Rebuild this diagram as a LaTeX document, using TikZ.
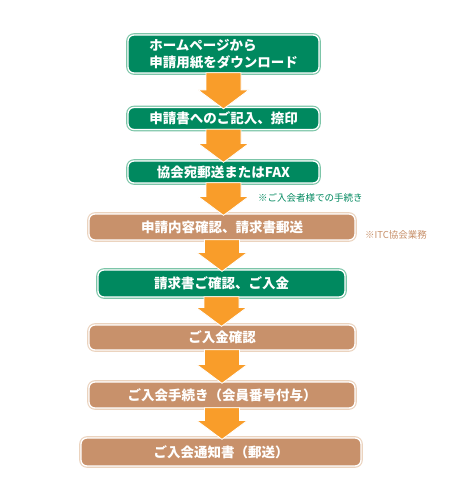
\documentclass[tikz,border=0pt]{standalone}
\usepackage{fontspec}
\newfontfamily\jp{Noto Sans CJK JP}
\usetikzlibrary{calc}
\definecolor{grn}{HTML}{00895F}
\definecolor{grnl}{HTML}{7CC5A8}
\definecolor{brn}{HTML}{C8916B}
\definecolor{brnl}{HTML}{EBD3BE}
\definecolor{orng}{HTML}{F99D2A}
\newcommand\flowarrow[2]{%
  \path[fill=orng, draw=white, line width=0.8pt, line join=miter]
    let \p1=(#1.south), \p2=(#2.north) in
    (\x1-17.5pt,\y1+1pt) -- (\x1+17.5pt,\y1+1pt) -- (\x1+17.5pt,\y2+17pt)
    -- (\x1+25.5pt,\y2+17pt) -- (\x1,\y2-2pt) -- (\x1-25.5pt,\y2+17pt)
    -- (\x1-17.5pt,\y2+17pt) -- cycle;}
\begin{document}
\begin{tikzpicture}[x=1pt,y=-1pt,
  box/.style={rounded corners=6pt, draw=white, line width=1.3pt, text=white,
    font=\jp\bfseries\fontsize{13.5}{17}\selectfont, inner sep=0pt},
  gbox/.style={box, fill=grn, preaction={draw=grnl, line width=3.6pt}},
  bbox/.style={box, fill=brn, preaction={draw=brnl, line width=3.6pt}},
  gnote/.style={anchor=west, inner sep=0pt, text=grn, font=\jp\fontsize{9.5}{11}\selectfont},
  bnote/.style={anchor=west, inner sep=0pt, text=brn, font=\jp\fontsize{9.5}{11}\selectfont}]
\useasboundingbox[fill=white] (0,0) rectangle (470,490);
\node[gbox, minimum width=191pt, minimum height=38pt, align=left] (b1) at (223.5,54)
  {ホームページから\\申請用紙をダウンロード};
\node[gbox, minimum width=191pt, minimum height=22pt] (b2) at (223.5,118.5)
  {申請書へのご記入、捺印};
\node[gbox, minimum width=191pt, minimum height=22pt] (b3) at (223.5,172)
  {協会宛郵送またはFAX};
\node[bbox, minimum width=266pt, minimum height=26pt] (b4) at (222,227)
  {申請内容確認、請求書郵送};
\node[gbox, minimum width=247pt, minimum height=27pt] (b5) at (221.5,283.5)
  {請求書ご確認、ご入金};
\node[bbox, minimum width=266pt, minimum height=25pt] (b6) at (222,337.5)
  {ご入金確認};
\node[bbox, minimum width=266pt, minimum height=26pt] (b7) at (222,395)
  {ご入会手続き（会員番号付与）};
\node[bbox, minimum width=280pt, minimum height=28pt] (b8) at (221,452)
  {ご入会通知書（郵送）};
\node[gnote] (n1) at (258,198) {※ご入会者様での手続き};
\node[bnote] (n2) at (365,235) {※ITC協会業務};
\flowarrow{b1}{b2}
\flowarrow{b2}{b3}
\flowarrow{b3}{b4}
\flowarrow{b4}{b5}
\flowarrow{b5}{b6}
\flowarrow{b6}{b7}
\flowarrow{b7}{b8}
\end{tikzpicture}
\end{document}
